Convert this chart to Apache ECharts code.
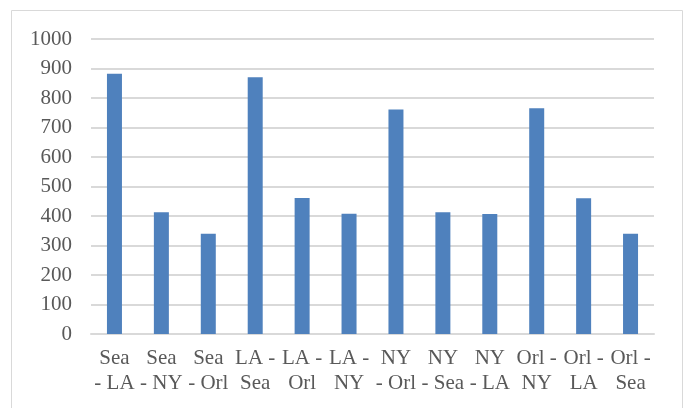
<!DOCTYPE html>
<html>
<head>
<meta charset="utf-8">
<script src="https://cdn.jsdelivr.net/npm/echarts@6/dist/echarts.min.js"></script>
<style>
  html, body { margin: 0; padding: 0; background: #fff; }
  #main { width: 688px; height: 408px; }
</style>
</head>
<body>
<div id="main"></div>
<script>
// route pairs, wrapped the way the original labels wrap
var routes = ['Sea\n- LA', 'Sea\n- NY', 'Sea\n- Orl', 'LA -\nSea', 'LA -\nOrl', 'LA -\nNY',
              'NY\n- Orl', 'NY\n- Sea', 'NY\n- LA', 'Orl -\nNY', 'Orl -\nLA', 'Orl -\nSea'];
var counts = [882, 413, 340, 870, 461, 408, 761, 413, 407, 765, 460, 340];
var yTicks = [0, 100, 200, 300, 400, 500, 600, 700, 800, 900, 1000];

var chart = echarts.init(document.getElementById('main'));
var txt = '#595959', grid = '#d9d9d9';
var serif = '"Liberation Serif", "Times New Roman", serif';

chart.setOption({
    animation: false,
    textStyle: { fontFamily: serif },
    graphic: [{
        type: 'rect',
        shape: { x: 11.5, y: 10.5, width: 671, height: 410 },
        style: { fill: 'none', stroke: grid, lineWidth: 1 },
        silent: true
    }],
    grid: { left: 91, right: 34, top: 39, bottom: 74 },
    xAxis: {
        type: 'category',
        data: routes,
        axisLine: { lineStyle: { color: grid, width: 2 } },
        axisTick: { show: false },
        axisLabel: {
            color: txt, fontSize: 21, lineHeight: 25, margin: 12,
            interval: 0, fontFamily: serif
        }
    },
    yAxis: {
        type: 'value',
        min: yTicks[0],
        max: yTicks[yTicks.length - 1],
        interval: 100,
        axisLine: { show: false },
        axisTick: { show: false },
        splitLine: { lineStyle: { color: grid, width: 2 } },
        axisLabel: {
            color: txt, fontSize: 21, margin: 19, fontFamily: serif,
            formatter: function (v) { return String(v); }
        }
    },
    series: [{
        type: 'bar',
        data: counts,
        barWidth: 15,
        itemStyle: { color: '#4f81bd' }
    }]
});
</script>
</body>
</html>
